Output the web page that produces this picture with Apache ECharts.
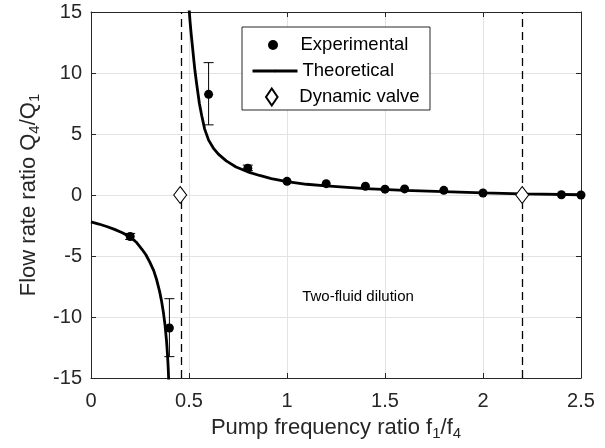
<!DOCTYPE html>
<html>
<head>
<meta charset="utf-8">
<script src="https://cdn.jsdelivr.net/npm/echarts@6/dist/echarts.min.js"></script>
<style>
    html, body { margin: 0; padding: 0; background: #fff; }
    #chart { width: 605px; height: 448px; }
</style>
</head>
<body>
<div id="chart"></div>
<script>
    // axis ticks
    var xTicks = [0, 0.5, 1, 1.5, 2, 2.5];
    var yTicks = [-15, -10, -5, 0, 5, 10, 15];

    // experimental points
    var expX = [0.2, 0.4, 0.6, 0.8, 1.0, 1.2, 1.4, 1.5, 1.6, 1.8, 2.0, 2.4, 2.5];
    var expY = [-3.4, -10.9, 8.25, 2.2, 1.12, 0.93, 0.72, 0.48, 0.5, 0.38, 0.16, 0.02, 0.0];

    // error bars (x, low, high)
    var errX = [0.2, 0.4, 0.6, 0.8];
    var errLow = [-3.65, -13.25, 5.75, 2.0];
    var errHigh = [-3.15, -8.5, 10.85, 2.45];

    // theoretical curve, two branches
    var theoLeftX = [0, 0.04, 0.08, 0.12, 0.16, 0.2, 0.23, 0.26, 0.28, 0.3, 0.32, 0.335, 0.35, 0.36, 0.37, 0.378, 0.385, 0.39, 0.394, 0.398];
    var theoLeftY = [-2.2, -2.38, -2.58, -2.82, -3.1, -3.45, -3.85, -4.45, -4.9, -5.5, -6.2, -6.95, -7.9, -8.7, -9.7, -10.7, -11.9, -13.0, -14.2, -15.8];
    var theoRightX = [0.499, 0.505, 0.51, 0.515, 0.52, 0.525, 0.531, 0.54, 0.553, 0.565, 0.58, 0.6, 0.624, 0.65, 0.69, 0.74, 0.8, 0.86, 0.92, 1.0, 1.1, 1.2, 1.4, 1.6, 1.8, 2.0, 2.2, 2.5];
    var theoRightY = [15.6, 14.3, 13.4, 12.6, 11.8, 11.0, 10.1, 9.0, 7.5, 6.5, 5.4, 4.5, 3.85, 3.35, 2.8, 2.3, 1.9, 1.6, 1.35, 1.1, 0.88, 0.74, 0.53, 0.38, 0.27, 0.18, 0.1, 0.02];

    // dynamic valve points
    var valveX = [0.455, 2.2];
    var valveY = [0, 0];

    var axisColor = '#262626';
    var font = 'Liberation Sans, Arial, sans-serif';
    var diamond = 'path://M0,-1 L0.68,0 L0,1 L-0.68,0 Z';

    function pairs(xs, ys) {
        return xs.map(function (x, i) { return [x, ys[i]]; });
    }

    var theoData = pairs(theoLeftX, theoLeftY).concat([[null, null]]).concat(pairs(theoRightX, theoRightY));
    var errData = errX.map(function (x, i) { return [x, errLow[i], errHigh[i]]; });

    function renderErr(params, api) {
        var x = api.value(0);
        var p1 = api.coord([x, api.value(1)]);
        var p2 = api.coord([x, api.value(2)]);
        var w = 5;
        var st = { stroke: '#000', lineWidth: 1 };
        return {
            type: 'group',
            children: [
                { type: 'line', shape: { x1: p1[0], y1: p1[1], x2: p2[0], y2: p2[1] }, style: st },
                { type: 'line', shape: { x1: p1[0] - w, y1: p1[1], x2: p1[0] + w, y2: p1[1] }, style: st },
                { type: 'line', shape: { x1: p2[0] - w, y1: p2[1], x2: p2[0] + w, y2: p2[1] }, style: st }
            ]
        };
    }

    var labelStyle = { color: axisColor, fontSize: 20, fontFamily: font };
    var subStyle = { fontSize: 15, fontFamily: font, color: axisColor, padding: [11, 0, 0, 0] };

    // one legend per row so each icon can get its own size
    function legendBlock(name, left, h, centerY) {
        return {
            data: [name],
            left: left,
            top: centerY - 8.5,
            padding: 0,
            itemWidth: 45,
            itemHeight: h,
            itemGap: 0,
            selectedMode: false,
            lineStyle: { width: 3 },
            textStyle: { color: '#000', fontSize: 18.5, fontFamily: font }
        };
    }

    var chart = echarts.init(document.getElementById('chart'));
    chart.setOption({
        animation: false,
        backgroundColor: '#fff',
        grid: { left: 91, right: 24, top: 12, bottom: 70 },
        legend: [
            legendBlock('Experimental', 268, 10, 44),
            legendBlock('Theoretical', 251, 3, 70),
            legendBlock('Dynamic valve', 265, 17, 96)
        ],
        graphic: [
            {
                type: 'rect', z: 3,
                shape: { x: 242, y: 27, width: 188, height: 83 },
                style: { fill: '#fff', stroke: axisColor, lineWidth: 1 }
            },
            {
                type: 'text', z: 3,
                style: {
                    x: 358, y: 297, text: 'Two-fluid dilution',
                    textAlign: 'center', textVerticalAlign: 'middle',
                    font: '15px ' + font, fill: '#000'
                }
            }
        ],
        xAxis: [{
            type: 'value',
            min: xTicks[0], max: xTicks[xTicks.length - 1], interval: 0.5,
            name: 'Pump frequency ratio f{s|1}/f{s|4}',
            nameLocation: 'middle', nameGap: 37,
            nameTextStyle: { color: axisColor, fontSize: 22, fontFamily: font, rich: { s: subStyle } },
            axisLine: { show: true, onZero: false, lineStyle: { color: axisColor, width: 1 } },
            axisTick: { show: true, inside: true, length: 5, lineStyle: { color: axisColor } },
            axisLabel: Object.assign({ margin: 13, showMinLabel: true, showMaxLabel: true }, labelStyle),
            splitLine: { show: true, lineStyle: { color: '#e3e3e3', width: 1 } }
        }, {
            type: 'value', position: 'top',
            min: xTicks[0], max: xTicks[xTicks.length - 1], interval: 0.5,
            axisLine: { show: true, onZero: false, lineStyle: { color: axisColor, width: 1 } },
            axisTick: { show: true, inside: true, length: 5, lineStyle: { color: axisColor } },
            axisLabel: { show: false },
            splitLine: { show: false }
        }],
        yAxis: [{
            type: 'value',
            min: yTicks[0], max: yTicks[yTicks.length - 1], interval: 5,
            name: 'Flow rate ratio Q{s|4}/Q{s|1}',
            nameLocation: 'middle', nameGap: 47, nameRotate: 90,
            nameTextStyle: { color: axisColor, fontSize: 22, fontFamily: font, rich: { s: subStyle } },
            axisLine: { show: true, onZero: false, lineStyle: { color: axisColor, width: 1 } },
            axisTick: { show: true, inside: true, length: 5, lineStyle: { color: axisColor } },
            axisLabel: Object.assign({ margin: 9, showMinLabel: true, showMaxLabel: true }, labelStyle),
            splitLine: { show: true, lineStyle: { color: '#e3e3e3', width: 1 } }
        }, {
            type: 'value', position: 'right',
            min: yTicks[0], max: yTicks[yTicks.length - 1], interval: 5,
            axisLine: { show: true, onZero: false, lineStyle: { color: axisColor, width: 1 } },
            axisTick: { show: true, inside: true, length: 5, lineStyle: { color: axisColor } },
            axisLabel: { show: false },
            splitLine: { show: false }
        }],
        series: [
            {
                name: 'Theoretical',
                type: 'line',
                data: theoData,
                symbol: 'none',
                smooth: false,
                connectNulls: false,
                clip: true,
                z: 2,
                lineStyle: { color: '#000', width: 2.8 },
                itemStyle: { color: '#000' },
                markLine: {
                    silent: true,
                    symbol: 'none',
                    label: { show: false },
                    lineStyle: { color: '#000', type: [8, 5], width: 1.3 },
                    data: valveX.map(function (v) { return { xAxis: v }; })
                }
            },
            {
                name: 'Errorbars',
                type: 'custom',
                renderItem: renderErr,
                data: errData,
                encode: { x: 0, y: [1, 2] },
                z: 3
            },
            {
                name: 'Experimental',
                type: 'scatter',
                data: pairs(expX, expY),
                symbol: 'circle',
                symbolSize: 9,
                z: 4,
                itemStyle: { color: '#000', opacity: 1 }
            },
            {
                name: 'Dynamic valve',
                type: 'scatter',
                data: pairs(valveX, valveY),
                symbol: diamond,
                symbolSize: [13, 17],
                z: 5,
                itemStyle: { color: '#fff', borderColor: '#000', borderWidth: 1, opacity: 1 }
            }
        ]
    });
</script>
</body>
</html>
